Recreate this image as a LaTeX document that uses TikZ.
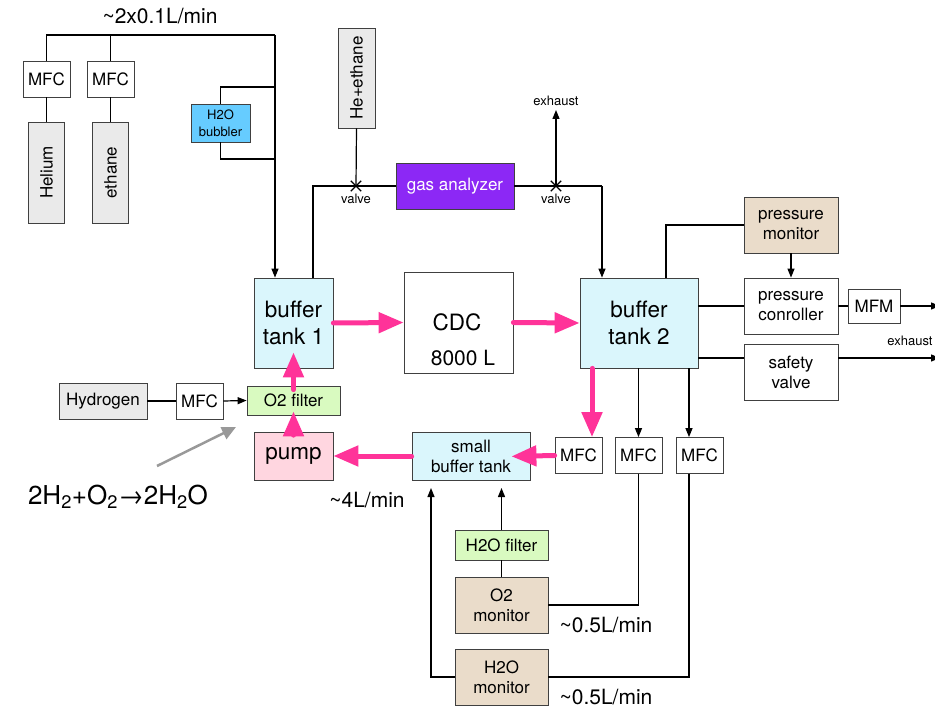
\documentclass[tikz,border=0pt]{standalone}
\usepackage{fontspec}
\setmainfont{TeX Gyre Heros}
\usepackage{tikz}
\usetikzlibrary{arrows.meta, shapes.misc, calc}
\usepackage{xcolor}

\definecolor{bottlegray}{RGB}{234,234,234}
\definecolor{bubblerblue}{RGB}{102,204,255}
\definecolor{tankcyan}{RGB}{218,246,252}
\definecolor{analyzerpurple}{RGB}{140,40,245}
\definecolor{monitortan}{RGB}{234,220,202}
\definecolor{filtergreen}{RGB}{217,250,192}
\definecolor{pumppink}{RGB}{255,214,224}
\definecolor{flowpink}{RGB}{255,51,153}
\definecolor{arrowgray}{RGB}{153,153,153}

\begin{document}
\begin{tikzpicture}[x=1pt, y=-1pt,
  box/.style={draw=black!75, line width=0.8pt, align=center, inner sep=1pt},
  fsbig/.style={font=\fontsize{22.5}{27}\selectfont},
  fsmid/.style={font=\fontsize{17}{20}\selectfont},
  fstiny/.style={font=\fontsize{13}{17}\selectfont},
  fslabel/.style={font=\fontsize{21}{25}\selectfont},
  mfc/.style={box, fsmid, minimum width=47pt, minimum height=36pt},
  bottle/.style={box, fill=bottlegray, fsmid, rotate=90, minimum width=101pt, minimum height=36pt},
  tank/.style={box, fill=tankcyan, fsbig},
  monitor/.style={box, fill=monitortan, fsmid},
  pipe/.style={line width=1.2pt},
  feed/.style={pipe, -{Triangle[length=9pt,width=7pt]}},
  flow/.style={draw=flowpink, line width=5pt, line cap=round, -{Triangle[length=25pt,width=20pt]}},
  valvex/.style={cross out, draw, line width=1.4pt, minimum size=9pt, inner sep=0pt}]
\useasboundingbox (0,0) rectangle (935,711);

% gas supply
\node[mfc] (mfcHe) at (46.5,79) {MFC};
\node[mfc] (mfcEt) at (110.5,79) {MFC};
\node[bottle] (helium) at (46.5,172.5) {Helium};
\node[bottle] (ethane) at (110.5,172.5) {ethane};
\node[box, fill=bubblerblue, font=\fontsize{13}{17}\selectfont, minimum width=59pt, minimum height=38pt] (bubbler) at (220.5,123) {H2O\\bubbler};
\node[bottle, minimum width=100pt, minimum height=37pt] (mixgas) at (356.5,78) {He+ethane};
\node[box, fill=analyzerpurple, text=white, fsmid, minimum width=118pt, minimum height=46pt] (analyzer) at (455,186) {gas analyzer};
\node[valvex] (valve1) at (356,186) {};
\node[valvex] (valve2) at (556,186) {};
\node[fstiny] (valve1txt) at (356,199) {valve};
\node[fstiny] (valve2txt) at (556,199) {valve};

% main loop
\node[tank, minimum width=79pt, minimum height=90pt] (tank1) at (293.5,323) {buffer\\tank 1};
\node[box, minimum width=109pt, minimum height=101pt] (cdc) at (458.5,322.5) {};
\node[fsbig] (cdcname) at (457,322) {CDC};
\node[font=\fontsize{21}{25}\selectfont] (cdcvol) at (463,358) {8000 L};
\node[tank, minimum width=118pt, minimum height=90pt] (tank2) at (639,323) {buffer\\tank 2};
\node[monitor, minimum width=94pt, minimum height=56pt] (pmon) at (791,225) {pressure\\monitor};
\node[box, fsmid, minimum width=94pt, minimum height=56pt] (pctrl) at (791,306) {pressure\\conroller};
\node[box, fsmid, minimum width=52pt, minimum height=34pt] (mfm) at (874,306) {MFM};
\node[box, fsmid, minimum width=94pt, minimum height=56pt] (safety) at (791,372) {safety\\valve};
\node[mfc] (mfc1) at (578.5,455.5) {MFC};
\node[mfc] (mfc2) at (638.5,455.5) {MFC};
\node[mfc] (mfc3) at (699.5,455.5) {MFC};
\node[tank, fsmid, minimum width=118pt, minimum height=48pt] (smalltank) at (471,456) {small\\buffer tank};
\node[box, fill=pumppink, fsbig, minimum width=79pt, minimum height=48pt] (pump) at (293.5,456) {pump};
\node[box, fill=filtergreen, fsmid, minimum width=93pt, minimum height=29pt] (o2filter) at (293.5,400.5) {O2 filter};
\node[box, fill=bottlegray, fsmid, minimum width=88pt, minimum height=36pt] (hydrogen) at (103,401) {Hydrogen};
\node[mfc] (mfcH2) at (199.5,401) {MFC};

% monitors
\node[box, fill=filtergreen, fsmid, minimum width=93pt, minimum height=30pt] (h2ofilter) at (501.5,545) {H2O filter};
\node[monitor, minimum width=93pt, minimum height=56pt] (o2mon) at (501.5,605) {O2\\monitor};
\node[monitor, minimum width=93pt, minimum height=56pt] (h2omon) at (501.5,677) {H2O\\monitor};

% free ends and bends
\coordinate (topR) at (275,35);
\coordinate (bubIn) at (275,87);
\coordinate (bubOut) at (275,159);
\coordinate (gasL) at (313,186);
\coordinate (gasR) at (602,186);
\coordinate (exTop) at (556,110);
\coordinate (pmTurn) at (666,0);
\coordinate (exMFM) at (940,306);
\coordinate (exSafe) at (940,358);
\coordinate (ret) at (431,488);
\coordinate (rxTail) at (157,466);
\coordinate (rxTip) at (236,427);

\draw[pipe] (mfcHe.north) |- (topR);
\draw[pipe] (mfcEt.north) -- (mfcEt.north |- topR);
\draw[feed] (topR) -- (topR |- tank1.north);
\draw[pipe] (bubIn) -| (bubbler.north);
\draw[pipe] (bubbler.south) |- (bubOut);
\draw[pipe] (helium.east) -- (mfcHe.south);
\draw[pipe] (ethane.east) -- (mfcEt.south);
\draw[pipe] (mixgas.west) -- (valve1.center);
\draw[pipe] (gasL |- tank1.north) -- (gasL) -- (analyzer.west);
\draw[pipe] (analyzer.east) -- (gasR);
\draw[feed] (gasR) -- (gasR |- tank2.north);
\draw[feed] (valve2.center) -- (exTop) node[above, fstiny] (exTopTxt) {exhaust};

\draw[pipe] (pmon.west) -| (pmTurn |- tank2.north);
\draw[feed] (pmon.south) -- (pctrl.north);
\draw[pipe] (tank2.east |- pctrl.west) -- (pctrl.west);
\draw[pipe] (pctrl.east) -- (mfm.west);
\draw[feed] (mfm.east) -- (exMFM);
\draw[pipe] (exSafe -| tank2.east) -- (exSafe -| safety.west);
\draw[feed] (exSafe -| safety.east) -- (exSafe);
\node[fstiny] (exSafeTxt) at (910,341) {exhaust};

\draw[feed] (mfc2.north |- tank2.south) -- (mfc2.north);
\draw[feed] ([xshift=-10.5pt]mfc3.north |- tank2.south) -- ([xshift=-10.5pt]mfc3.north);
\draw[pipe] (mfc2.south) |- (o2mon.east);
\draw[pipe] ([xshift=-10.5pt]mfc3.south) |- (h2omon.east);
\draw[feed] (h2omon.west) -| (ret);
\draw[pipe] (o2mon.north) -- (h2ofilter.south);
\draw[feed] (h2ofilter.north) -- (h2ofilter.north |- ret);

\draw[pipe] (hydrogen.east) -- (mfcH2.west);
\draw[feed] (mfcH2.east) -- (o2filter.west);

% circulation
\draw[flow] (tank1.east) -- (cdc.west);
\draw[flow] (cdc.east) -- (tank2.west);
\draw[flow] ([xshift=13.5pt]mfc1.north |- tank2.south) -- ([xshift=13.5pt]mfc1.north);
\draw[flow, shorten >=-19pt] (mfc1.west) -- (smalltank.east);
\draw[flow] (smalltank.west) -- (pump.east);
\draw[flow, shorten <=-8pt, shorten >=-4pt] (pump.north) -- (o2filter.south);
\draw[flow, shorten <=-4pt, shorten >=-16pt] (o2filter.north) -- (tank1.south);

\draw[line width=2.5pt, draw=arrowgray, -{Triangle[length=14pt,width=13pt]}] (rxTail) -- (rxTip);

% labels
\node[fslabel] (rateTop) at (160,16) {\textasciitilde 2x0.1L/min};
\node[fslabel] (ratePump) at (367,500) {\textasciitilde 4L/min};
\node[fslabel] (rateO2) at (606,625) {\textasciitilde 0.5L/min};
\node[fslabel] (rateH2O) at (606,697) {\textasciitilde 0.5L/min};
\node[font=\fontsize{26}{31}\selectfont] (reaction) at (118,497) {2H\textsubscript{2}+O\textsubscript{2}→2H\textsubscript{2}O};
\end{tikzpicture}
\end{document}
